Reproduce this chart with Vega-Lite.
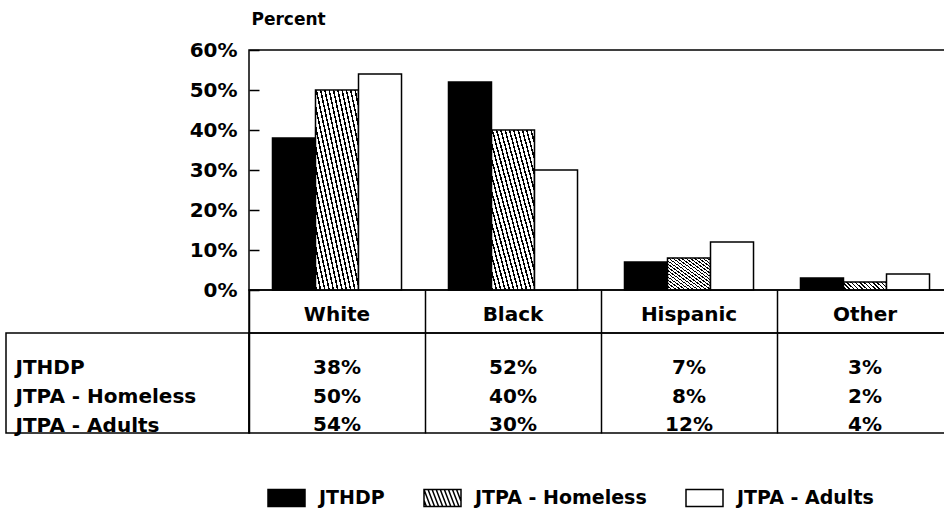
{
  "$schema": "https://vega.github.io/schema/vega-lite/v6.json",
  "background": "white",
  "padding": {"left": 5, "top": 9, "right": 0, "bottom": 0},
  "config": {
    "font": "DejaVu Sans",
    "view": {"stroke": "black", "strokeWidth": 1.5},
    "concat": {"spacing": 0}
  },
  "datasets": {
    "race": [
      {"category": "White", "series": "JTHDP", "value": 38},
      {"category": "White", "series": "JTPA - Homeless", "value": 50},
      {"category": "White", "series": "JTPA - Adults", "value": 54},
      {"category": "Black", "series": "JTHDP", "value": 52},
      {"category": "Black", "series": "JTPA - Homeless", "value": 40},
      {"category": "Black", "series": "JTPA - Adults", "value": 30},
      {"category": "Hispanic", "series": "JTHDP", "value": 7},
      {"category": "Hispanic", "series": "JTPA - Homeless", "value": 8},
      {"category": "Hispanic", "series": "JTPA - Adults", "value": 12},
      {"category": "Other", "series": "JTHDP", "value": 3},
      {"category": "Other", "series": "JTPA - Homeless", "value": 2},
      {"category": "Other", "series": "JTPA - Adults", "value": 4}
    ]
  },
  "columns": 2,
  "spacing": 0,
  "bounds": "flush",
  "concat": [
    {
      "width": 243, "height": 240,
      "data": {"values": [{}]},
      "mark": {"type": "text", "text": ""},
      "view": {"stroke": null}
    },
    {
      "width": 704, "height": 240,
      "data": {"name": "race"},
      "mark": {"type": "bar", "stroke": "black", "strokeWidth": 1.5},
      "encoding": {
        "x": {"field": "category", "type": "nominal", "sort": ["White", "Black", "Hispanic", "Other"], "scale": {"paddingInner": 0, "paddingOuter": 0}, "axis": null},
        "xOffset": {"field": "series", "type": "nominal", "sort": ["JTHDP", "JTPA - Homeless", "JTPA - Adults"], "scale": {"paddingInner": 0, "paddingOuter": 0.546}},
        "y": {
          "field": "value", "type": "quantitative",
          "scale": {"domain": [0, 60], "nice": false},
          "axis": {
            "values": [0, 10, 20, 30, 40, 50, 60],
            "labelExpr": "datum.value + '%'",
            "grid": false, "domain": false, "offset": -10,
            "tickSize": 10, "tickColor": "black", "tickWidth": 1.5,
            "labelFontSize": 20, "labelFontWeight": "bold", "labelColor": "black", "labelPadding": 12,
            "title": "Percent", "titleAngle": 0, "titleAlign": "left", "titleBaseline": "middle",
            "titleX": -8, "titleY": -31, "titleFontSize": 17, "titleFontWeight": "bold", "titleColor": "black"
          }
        },
        "fill": {
          "condition": {
            "test": "datum.series === 'JTPA - Homeless'",
            "value": {"gradient": "linear", "x1": 0, "y1": 1, "x2": 1, "y2": 0, "stops": [
                {"offset": 0, "color": "black"}, {"offset": 0.018, "color": "black"}, {"offset": 0.018, "color": "white"}, {"offset": 0.05, "color": "white"},
                {"offset": 0.05, "color": "black"}, {"offset": 0.068, "color": "black"}, {"offset": 0.068, "color": "white"}, {"offset": 0.1, "color": "white"},
                {"offset": 0.1, "color": "black"}, {"offset": 0.118, "color": "black"}, {"offset": 0.118, "color": "white"}, {"offset": 0.15, "color": "white"},
                {"offset": 0.15, "color": "black"}, {"offset": 0.168, "color": "black"}, {"offset": 0.168, "color": "white"}, {"offset": 0.2, "color": "white"},
                {"offset": 0.2, "color": "black"}, {"offset": 0.218, "color": "black"}, {"offset": 0.218, "color": "white"}, {"offset": 0.25, "color": "white"},
                {"offset": 0.25, "color": "black"}, {"offset": 0.268, "color": "black"}, {"offset": 0.268, "color": "white"}, {"offset": 0.3, "color": "white"},
                {"offset": 0.3, "color": "black"}, {"offset": 0.318, "color": "black"}, {"offset": 0.318, "color": "white"}, {"offset": 0.35, "color": "white"},
                {"offset": 0.35, "color": "black"}, {"offset": 0.368, "color": "black"}, {"offset": 0.368, "color": "white"}, {"offset": 0.4, "color": "white"},
                {"offset": 0.4, "color": "black"}, {"offset": 0.418, "color": "black"}, {"offset": 0.418, "color": "white"}, {"offset": 0.45, "color": "white"},
                {"offset": 0.45, "color": "black"}, {"offset": 0.468, "color": "black"}, {"offset": 0.468, "color": "white"}, {"offset": 0.5, "color": "white"},
                {"offset": 0.5, "color": "black"}, {"offset": 0.518, "color": "black"}, {"offset": 0.518, "color": "white"}, {"offset": 0.55, "color": "white"},
                {"offset": 0.55, "color": "black"}, {"offset": 0.568, "color": "black"}, {"offset": 0.568, "color": "white"}, {"offset": 0.6, "color": "white"},
                {"offset": 0.6, "color": "black"}, {"offset": 0.618, "color": "black"}, {"offset": 0.618, "color": "white"}, {"offset": 0.65, "color": "white"},
                {"offset": 0.65, "color": "black"}, {"offset": 0.668, "color": "black"}, {"offset": 0.668, "color": "white"}, {"offset": 0.7, "color": "white"},
                {"offset": 0.7, "color": "black"}, {"offset": 0.718, "color": "black"}, {"offset": 0.718, "color": "white"}, {"offset": 0.75, "color": "white"},
                {"offset": 0.75, "color": "black"}, {"offset": 0.768, "color": "black"}, {"offset": 0.768, "color": "white"}, {"offset": 0.8, "color": "white"},
                {"offset": 0.8, "color": "black"}, {"offset": 0.818, "color": "black"}, {"offset": 0.818, "color": "white"}, {"offset": 0.85, "color": "white"},
                {"offset": 0.85, "color": "black"}, {"offset": 0.868, "color": "black"}, {"offset": 0.868, "color": "white"}, {"offset": 0.9, "color": "white"},
                {"offset": 0.9, "color": "black"}, {"offset": 0.918, "color": "black"}, {"offset": 0.918, "color": "white"}, {"offset": 0.95, "color": "white"},
                {"offset": 0.95, "color": "black"}, {"offset": 0.968, "color": "black"}, {"offset": 0.968, "color": "white"}, {"offset": 1, "color": "white"}
            ]}
          },
          "field": "series", "type": "nominal",
          "sort": ["JTHDP", "JTPA - Homeless", "JTPA - Adults"],
          "scale": {
            "domain": ["JTHDP", "JTPA - Homeless", "JTPA - Adults"],
            "range": ["black", "white", "white"]
          },
          "legend": {
            "orient": "none", "legendX": 261, "legendY": 428, "direction": "horizontal", "title": null,
            "symbolType": "M-1,-0.46H1V0.46H-1Z", "symbolSize": 1369,
            "symbolStrokeColor": "black", "symbolStrokeWidth": 1.5,
            "labelFontSize": 19, "labelFontWeight": "bold", "labelColor": "black", "labelLimit": 400,
            "labelOffset": 13, "columnPadding": 36,
            "encoding": {
              "symbols": {
                "shape": {
                  "condition": {"test": "datum.value === 'JTPA - Homeless'", "value": "M-1,-0.46H1V0.46H-1Z M-1,-0.46L-0.65,0.46 M-0.78,-0.46L-0.43,0.46 M-0.56,-0.46L-0.21,0.46 M-0.34,-0.46L0.01,0.46 M-0.12,-0.46L0.23,0.46 M0.1,-0.46L0.45,0.46 M0.32,-0.46L0.67,0.46 M0.54,-0.46L0.89,0.46 M0.76,-0.46L1,0.171 M-1,0.118L-0.87,0.46"},
                  "value": "M-1,-0.46H1V0.46H-1Z"
                },
                "stroke": {"value": "black"},
                "strokeWidth": {"value": 1.5}
              }
            }
          }
        }
      }
    },
    {
      "width": 243, "height": 43,
      "data": {"values": [{}]},
      "mark": {"type": "text", "text": ""},
      "view": {"stroke": null}
    },
    {
      "width": 704, "height": 43,
      "data": {"name": "race"},
      "transform": [{"filter": "datum.series === 'JTHDP'"}],
      "mark": {"type": "text", "fontSize": 20, "fontWeight": "bold", "baseline": "middle", "color": "black", "dy": 3},
      "encoding": {
        "x": {"field": "category", "type": "nominal", "sort": ["White", "Black", "Hispanic", "Other"], "scale": {"paddingInner": 0, "paddingOuter": 0},
          "axis": {"orient": "top", "labels": false, "ticks": false, "domain": false, "grid": true, "gridColor": "black", "gridWidth": 1.5, "gridOpacity": 1, "tickBand": "extent", "title": null}},
        "text": {"field": "category"}
      }
    },
    {
      "width": 243, "height": 100,
      "data": {"name": "race"},
      "transform": [{"filter": "datum.category === 'White'"}],
      "mark": {"type": "text", "text": ""},
      "encoding": {
        "y": {"field": "series", "type": "nominal", "sort": ["JTHDP", "JTPA - Homeless", "JTPA - Adults"], "scale": {"padding": 0.754},
          "axis": {"orient": "left", "title": null, "domain": false, "ticks": false, "labelAlign": "left", "labelBaseline": "middle", "labelPadding": -9, "labelOffset": 13.5,
            "labelFontSize": 20, "labelFontWeight": "bold", "labelColor": "black", "labelLimit": 400}}
      }
    },
    {
      "width": 704, "height": 100,
      "data": {"name": "race"},
      "mark": {"type": "text", "fontSize": 20, "fontWeight": "bold", "baseline": "middle", "color": "black", "dy": 13.5, "text": {"expr": "datum.value + '%'"}},
      "encoding": {
        "x": {"field": "category", "type": "nominal", "sort": ["White", "Black", "Hispanic", "Other"], "scale": {"paddingInner": 0, "paddingOuter": 0},
          "axis": {"orient": "top", "labels": false, "ticks": false, "domain": false, "grid": true, "gridColor": "black", "gridWidth": 1.5, "gridOpacity": 1, "tickBand": "extent", "title": null}},
        "y": {"field": "series", "type": "nominal", "sort": ["JTHDP", "JTPA - Homeless", "JTPA - Adults"], "scale": {"padding": 0.754}, "axis": null}
      }
    }
  ]
}
